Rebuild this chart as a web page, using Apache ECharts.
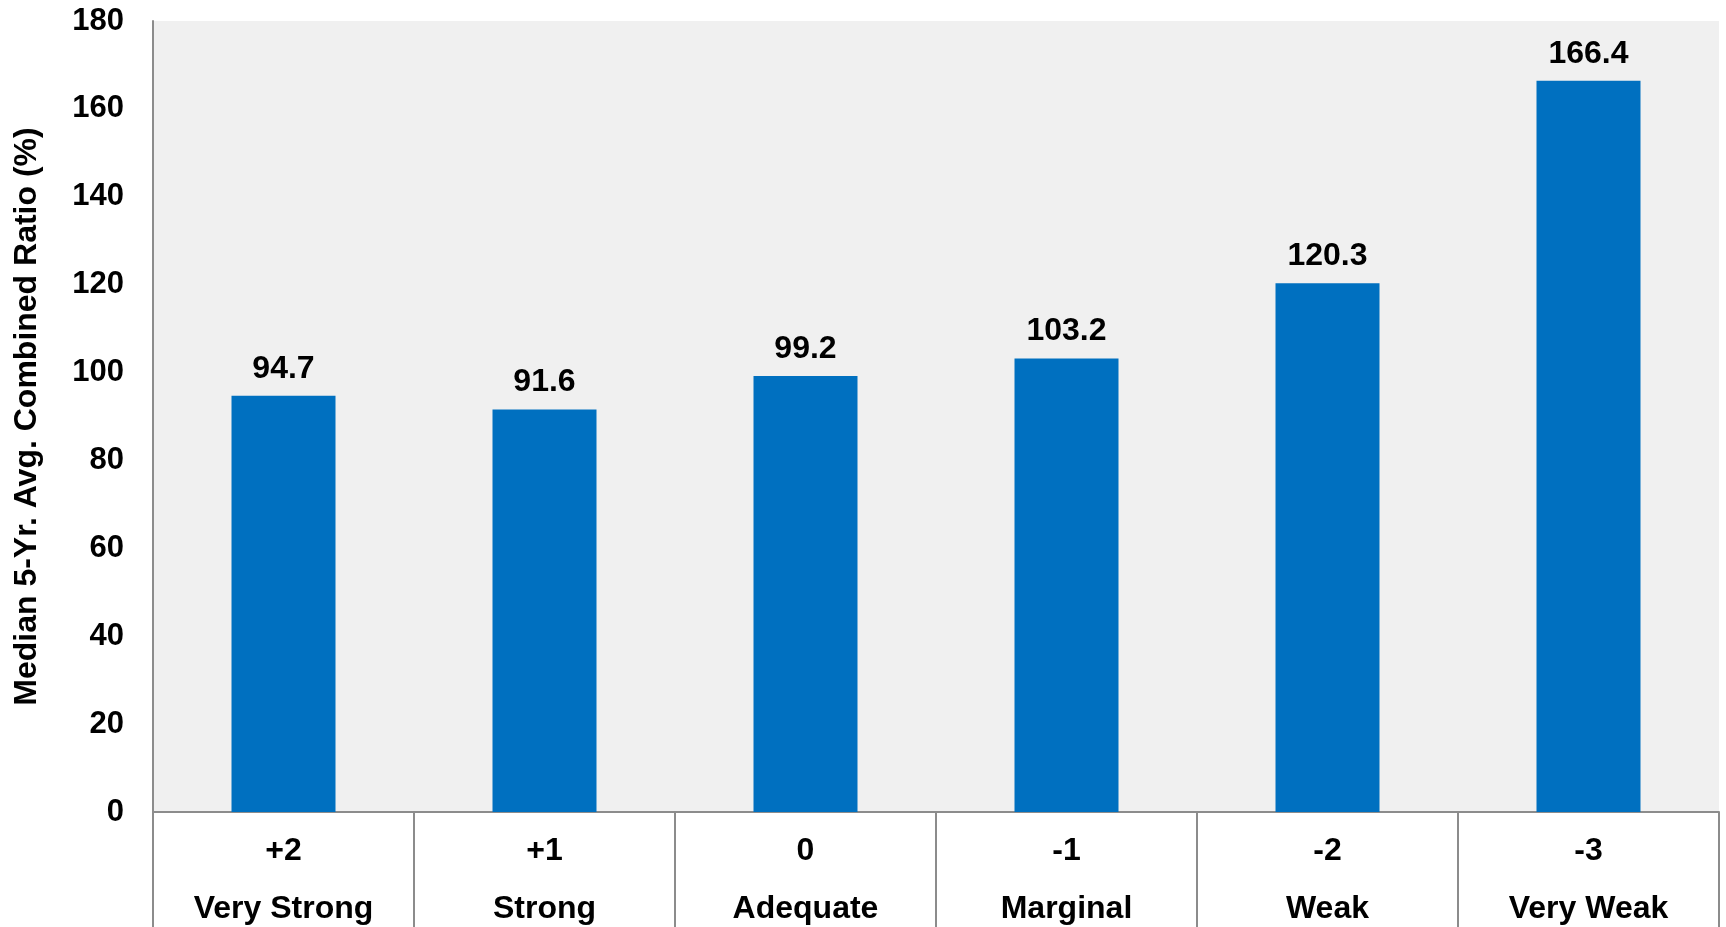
<!DOCTYPE html>
<html>
<head>
<meta charset="utf-8">
<title>Median 5-Yr. Avg. Combined Ratio by Assessment</title>
<script src="https://cdn.jsdelivr.net/npm/echarts@6/dist/echarts.min.js"></script>
<style>
  html, body { margin: 0; padding: 0; background: #ffffff; }
  #chart { width: 1726px; height: 927px; }
</style>
</head>
<body>
<div id="chart"></div>
<script>
// Assessment scores and their descriptors (two-line category labels)
const scores = ['+2', '+1', '0', '-1', '-2', '-3'];
const descriptors = ['Very Strong', 'Strong', 'Adequate', 'Marginal', 'Weak', 'Very Weak'];
// Median 5-year average combined ratio (%) per assessment
const combinedRatio = [94.7, 91.6, 99.2, 103.2, 120.3, 166.4];

const categories = scores.map((s, i) => s + '\n' + descriptors[i]);

const FONT = "'Liberation Sans', Arial, sans-serif";
const AXIS_GRAY = '#8c8c8c';

const chart = echarts.init(document.getElementById('chart'), null, { renderer: 'canvas' });

chart.setOption({
  animation: false,
  backgroundColor: '#ffffff',
  grid: {
    left: 153,
    right: 7,
    top: 21,
    bottom: 115,
    outerBoundsMode: 'none',
    containLabel: false,
    show: true,
    backgroundColor: '#f0f0f0',
    borderWidth: 0
  },
  xAxis: {
    type: 'category',
    data: categories,
    boundaryGap: true,
    axisLine: { show: true, lineStyle: { color: AXIS_GRAY, width: 2 } },
    // long ticks at category boundaries form the boxes around the labels
    axisTick: {
      show: true,
      interval: 0,
      length: 115,
      lineStyle: { color: AXIS_GRAY, width: 2 }
    },
    axisLabel: {
      interval: 0,
      margin: 10,
      color: '#000000',
      fontFamily: FONT,
      fontWeight: 'bold',
      fontSize: 32,
      lineHeight: 58
    },
    splitLine: { show: false }
  },
  yAxis: {
    type: 'value',
    min: 0,
    max: 180,
    interval: 20,
    name: 'Median 5-Yr. Avg. Combined Ratio (%)',
    nameLocation: 'middle',
    nameGap: 110,
    nameRotate: 90,
    nameTextStyle: {
      color: '#000000',
      fontFamily: FONT,
      fontWeight: 'bold',
      fontSize: 32
    },
    axisLine: { show: true, lineStyle: { color: AXIS_GRAY, width: 2 } },
    axisTick: { show: false },
    axisLabel: {
      margin: 29,
      color: '#000000',
      fontFamily: FONT,
      fontWeight: 'bold',
      fontSize: 31
    },
    splitLine: { show: false }
  },
  series: [{
    type: 'bar',
    data: combinedRatio,
    barWidth: 104,
    itemStyle: { color: '#0070c0' },
    label: {
      show: true,
      position: 'top',
      distance: 11,
      color: '#000000',
      fontFamily: FONT,
      fontWeight: 'bold',
      fontSize: 32,
      formatter: p => p.value.toFixed(1)
    }
  }]
});
</script>
</body>
</html>
